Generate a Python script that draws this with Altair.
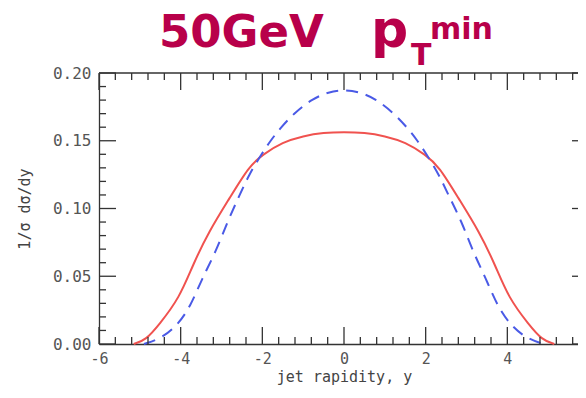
import altair as alt
import pandas as pd

# ---- data ----
red_x = [-5.15, -4.85, -4.53, -4.03, -3.70, -3.31, -2.80, -2.33, -2.0, -1.5, -1.0, -0.5, 0.0,
         0.5, 1.0, 1.5, 2.0, 2.33, 2.80, 3.31, 3.70, 4.03, 4.53, 4.85, 5.15]
red_v = [0.0, 0.003, 0.0142, 0.034, 0.0585, 0.083, 0.1077, 0.131, 0.1396, 0.149, 0.1535, 0.156, 0.1565,
         0.156, 0.1535, 0.149, 0.1396, 0.131, 0.1077, 0.083, 0.0585, 0.034, 0.0142, 0.003, 0.0]

blue_x = [-4.90, -4.45, -4.07, -3.76, -3.47, -3.14, -2.85, -2.57, -2.33, -2.0, -1.8, -1.57, -1.2, -0.77, -0.38, 0.0,
          0.38, 0.77, 1.2, 1.57, 1.8, 2.0, 2.33, 2.57, 2.88, 3.16, 3.47, 3.76, 4.07, 4.45, 4.88]
blue_v = [0.0, 0.0044, 0.0142, 0.0278, 0.0487, 0.068, 0.0905, 0.109, 0.1249, 0.141, 0.150, 0.159, 0.171, 0.181, 0.186, 0.1876,
          0.186, 0.181, 0.171, 0.159, 0.150, 0.141, 0.1249, 0.109, 0.0905, 0.068, 0.0487, 0.0278, 0.0142, 0.0044, 0.0]

x_major = [-6, -4, -2, 0, 2, 4, 6]
x_minor = [round(-6 + 0.4 * i, 1) for i in range(31) if i % 5 != 0]
y_major = [0.0, 0.05, 0.10, 0.15, 0.20]
y_minor = [round(0.01 * i, 2) for i in range(21) if i % 5 != 0]

AX = "#333333"
MONO = "DejaVu Sans Mono"
TITLE_COLOR = "#b8004a"

xs = alt.Scale(domain=[-6, 6], range=[0, 490], nice=False, zero=False)
ys = alt.Scale(domain=[0, 0.2], nice=False, zero=False)

xaxis = alt.Axis(title="jet rapidity, y", values=x_major, labelExpr="datum.value + ''",
                 labelFont=MONO, labelFontSize=15, labelColor="#555555",
                 ticks=False, tickSize=0, labelPadding=7, labelFlush=False, labelOverlap=False,
                 domainColor=AX, domainWidth=1.3, grid=False,
                 titleFont=MONO, titleFontSize=15, titleFontWeight="normal", titleColor="#444444",
                 titlePadding=3)
yaxis = alt.Axis(title="1/σ dσ/dy", values=y_major, format=".2f",
                 labelFont=MONO, labelFontSize=16, labelColor="#555555",
                 ticks=False, tickSize=0, labelPadding=8, labelFlush=False, labelOverlap=False,
                 domainColor=AX, domainWidth=1.3, grid=False,
                 titleFont=MONO, titleFontSize=15, titleFontWeight="normal", titleColor="#444444",
                 titlePadding=20)


def xy(chart):
    return chart.encode(x=alt.X("x:Q", scale=xs, axis=xaxis), y=alt.Y("v:Q", scale=ys, axis=yaxis))


red_df = pd.DataFrame({"x": red_x, "v": red_v})
blue_df = pd.DataFrame({"x": blue_x, "v": blue_v})

red = xy(alt.Chart(red_df).mark_line(color="#f0524f", strokeWidth=2, interpolate="basis"))
blue = xy(alt.Chart(blue_df).mark_line(color="#4a5ae6", strokeWidth=2, strokeDash=[12, 8],
                                       interpolate="basis"))

MAJ, MIN = 17, 7
layers = [red, blue]

# top frame line
top_df = pd.DataFrame({"x": [-6], "x2": [6], "v": [0.2]})
layers.append(alt.Chart(top_df).mark_rule(color=AX, strokeWidth=1.3).encode(
    x=alt.X("x:Q", scale=xs, axis=xaxis), x2="x2:Q", y=alt.Y("v:Q", scale=ys, axis=yaxis)))

for vals, L in ((x_major, MAJ), (x_minor, MIN)):
    bdf = pd.DataFrame({"x": vals, "v": [0.0] * len(vals)})
    tdf = pd.DataFrame({"x": vals, "v": [0.2] * len(vals)})
    layers.append(xy(alt.Chart(bdf).mark_tick(orient="vertical", size=L, thickness=1.3,
                                              color=AX, opacity=1, yOffset=-L / 2)))
    layers.append(xy(alt.Chart(tdf).mark_tick(orient="vertical", size=L, thickness=1.3,
                                              color=AX, opacity=1, yOffset=L / 2)))
for vals, L in ((y_major, MAJ), (y_minor, MIN)):
    ldf = pd.DataFrame({"x": [-6] * len(vals), "v": vals})
    rdf = pd.DataFrame({"x": [6] * len(vals), "v": vals})
    layers.append(xy(alt.Chart(ldf).mark_tick(orient="horizontal", size=L, thickness=1.3,
                                              color=AX, opacity=1, xOffset=L / 2)))
    layers.append(xy(alt.Chart(rdf).mark_tick(orient="horizontal", size=L, thickness=1.3,
                                              color=AX, opacity=1, xOffset=-L / 2)))

# title pieces: "50GeV p_T^min"
one = pd.DataFrame({"a": [0]})
def title_piece(txt, x, y, size):
    return alt.Chart(one).mark_text(text=txt, font="DejaVu Sans", fontWeight="bold", fontSize=size,
                                    color=TITLE_COLOR, align="left", baseline="alphabetic").encode(
        x=alt.value(x), y=alt.value(y))

layers += [
    title_piece("50GeV", 60, -26, 45),
    title_piece("p", 272, -26, 52),
    title_piece("T", 312, -8, 30),
    title_piece("min", 331, -34, 30),
]

chart = alt.layer(*layers).properties(
    width=479, height=271,
    autosize=alt.AutoSizeParams(type="none"),
    padding={"left": 91, "top": 65, "right": 0, "bottom": 44},
).configure_view(stroke=None)

chart.save("out.html", embed_options={"renderer": "svg", "actions": False})
